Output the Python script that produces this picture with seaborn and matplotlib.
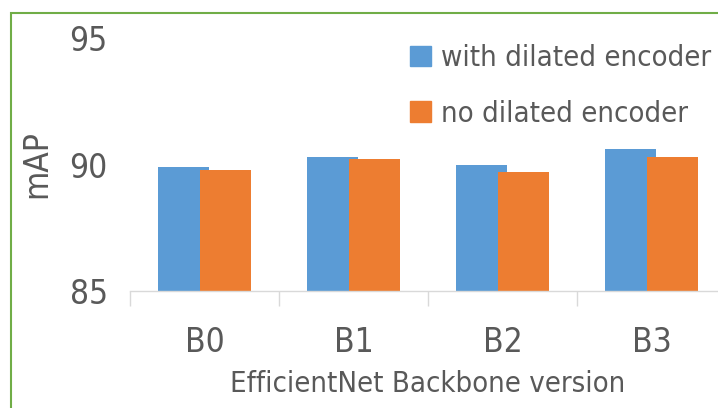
import pandas as pd
import seaborn as sns
import matplotlib.pyplot as plt
from matplotlib.patches import Rectangle, Patch

versions = ["B0", "B1", "B2", "B3"]
with_dilated = [89.9, 90.3, 90.0, 90.6]
no_dilated = [89.8, 90.2, 89.7, 90.3]
series_names = ["with dilated encoder", "no dilated encoder"]
colors = ["#5B9BD5", "#ED7D31"]
txt = "#595959"

data = pd.DataFrame({
    "version": versions * 2,
    "mAP": with_dilated + no_dilated,
    "serie": [series_names[0]] * 4 + [series_names[1]] * 4,
})

sns.set_style("white")
plt.rcParams["font.family"] = ["DejaVu Sans Condensed", "DejaVu Sans"]
plt.rcParams["font.stretch"] = "condensed"

fig = plt.figure(figsize=(7.18, 4.08), dpi=100)
ax = fig.add_axes([130 / 718, 117 / 408, 596 / 718, 253 / 408])

sns.barplot(data=data, x="version", y="mAP", hue="serie", palette=colors,
            width=0.564, ax=ax, legend=False, saturation=1)

# las barras de excel se solapan un poco
for p in ax.patches:
    c = p.get_x() + p.get_width() / 2
    p.set_width(0.336)
    p.set_x(c - 0.168)
    p.set_linewidth(0)

ax.set_ylim(85, 95)
ax.set_xlim(-0.5, 3.5)
ax.set_yticks([85, 90, 95])
ax.set_xticks([-0.5, 0.5, 1.5, 2.5], minor=True)
ax.tick_params(axis="x", which="major", length=0, labelsize=24, colors=txt, pad=25)
ax.tick_params(axis="x", which="minor", length=11, width=1, color="#D9D9D9", bottom=True)
ax.tick_params(axis="y", length=0, labelsize=24, colors=txt, pad=16)
for s in ["top", "right", "left"]:
    ax.spines[s].set_visible(False)
ax.spines["bottom"].set_color("#D9D9D9")
ax.spines["bottom"].set_linewidth(1)

ax.set_ylabel("mAP", fontsize=24, color=txt, labelpad=12)
ax.set_xlabel("EfficientNet Backbone version", fontsize=21, color=txt, labelpad=8)

handles = [Patch(color=c) for c in colors]
ax.legend(handles, series_names, loc="upper left", bbox_to_anchor=(384 / 718, 1 - 18 / 408),
          bbox_transform=fig.transFigure, frameon=False, fontsize=21, labelcolor=txt,
          handlelength=0.72, handleheight=0.72, handletextpad=0.32, labelspacing=0.95)

fig.add_artist(Rectangle((11 / 718, -0.1), 2, 1.1 - 13 / 408 + 0.0, transform=fig.transFigure,
                         fill=False, edgecolor="#70AD47", linewidth=1.5))

plt.savefig("out.png", dpi=100)
